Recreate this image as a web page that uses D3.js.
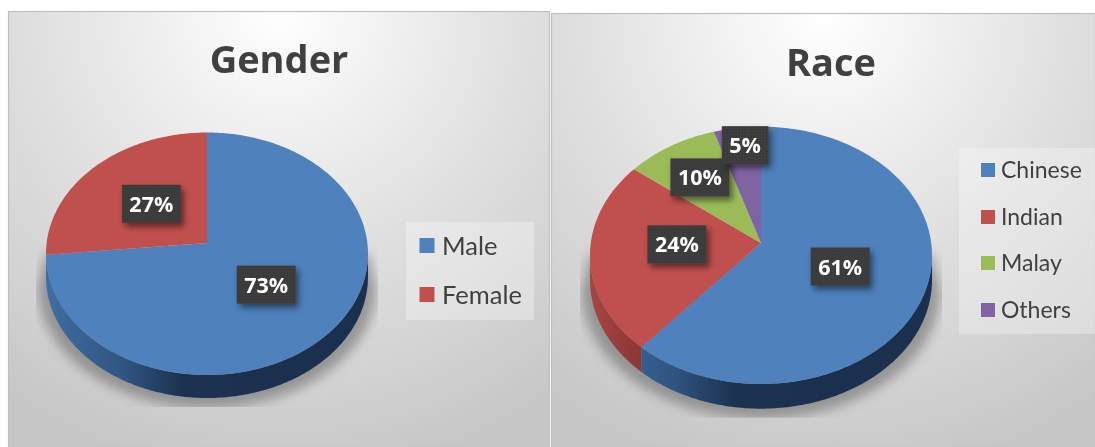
<!DOCTYPE html>
<html><head><meta charset="utf-8">
<style>html,body{margin:0;padding:0;background:#fff}svg{display:block;filter:blur(0.35px)}text{font-family:Lato,sans-serif}.ttl,.lbl{font-family:"Open Sans",sans-serif}</style>
<script src="https://cdn.jsdelivr.net/npm/d3@7"></script></head>
<body><svg id="c" width="1095" height="447"></svg>
<script>
const genderCategories = ["Male","Female"];
const genderValues = [73.45,26.55];
const raceCategories = ["Chinese","Indian","Malay","Others"];
const raceValues = [61.3,24.2,9.6,4.9];
const sliceColors = ["#4f81bd","#c0504d","#9bbb59","#8064a2"];

const layouts = [
 {title:"Gender",cats:genderCategories,vals:genderValues,
  panel:[8.5,11.5,541,436],titleX:279,titleY:73,titleSize:38,
  cx:207,cy:243,top:132.5,bottom:375,halfW:161,thick:23,
  labelR:[.5,.5],nudge:[[-2,0],[2,0]],
  legend:{box:[406,222,128,98],swX:419.5,swS:15,txtX:442,ys:[245.5,294.5],size:25.5}},
 {title:"Race",cats:raceCategories,vals:raceValues,
  panel:[551.5,13.5,544,434],titleX:831,titleY:76,titleSize:38,
  cx:761,cy:243,top:126.7,bottom:384,halfW:171,thick:24.7,
  labelR:[.5,.5,.66,.82],nudge:[[-2,1],[1,-5],[0,0],[4,-2]],
  legend:{box:[959,148,136,186],swX:981,swS:14,txtX:1001,ys:[170,217,263,310],size:23}}
];

const svg = d3.select("#c");
const defs = svg.append("defs");
const tex = defs.append("pattern").attr("id","tex").attr("width",3).attr("height",3).attr("patternUnits","userSpaceOnUse");
tex.append("rect").attr("width",3).attr("height",3).attr("fill","#3b3b3b");
tex.append("rect").attr("x",1).attr("y",1).attr("width",1).attr("height",1).attr("fill","#474747");
const sh = defs.append("filter").attr("id","lblShadow").attr("x","-30%").attr("y","-30%").attr("width","170%").attr("height","170%");
sh.append("feDropShadow").attr("dx",3).attr("dy",4).attr("stdDeviation",3).attr("flood-color","#000").attr("flood-opacity",.5);
const bl = defs.append("filter").attr("id","pieShadow").attr("x","-20%").attr("y","-20%").attr("width","140%").attr("height","140%");
bl.append("feGaussianBlur").attr("stdDeviation",6);

function grad(id,x0,x1,stops){
  const g=defs.append("linearGradient").attr("id",id).attr("gradientUnits","userSpaceOnUse")
    .attr("x1",x0).attr("x2",x1).attr("y1",0).attr("y2",0);
  stops.forEach(s=>g.append("stop").attr("offset",s[0]).attr("stop-color",s[1]));
}

layouts.forEach((L,li)=>{
  const [px,py,pw,ph]=L.panel;
  const bg=defs.append("radialGradient").attr("id","bg"+li).attr("gradientUnits","userSpaceOnUse")
    .attr("cx",px+pw/2).attr("cy",py).attr("r",470);
  [[0,"#ffffff"],[.25,"#f0f0f0"],[.55,"#dedede"],[.8,"#d2d2d2"],[1,"#c6c6c6"]].forEach(s=>bg.append("stop").attr("offset",s[0]).attr("stop-color",s[1]));
  const g=svg.append("g");
  g.append("rect").attr("x",px).attr("y",py).attr("width",pw).attr("height",ph)
    .attr("fill",`url(#bg${li})`).attr("stroke","#bfbfbf").attr("stroke-width",1.2);
  g.append("text").attr("class","ttl").attr("x",L.titleX).attr("y",L.titleY).attr("text-anchor","middle")
    .attr("font-size",L.titleSize).attr("font-weight",700).attr("fill","#404040").text(L.title);

  const ry0=L.cy-L.top, ry1=L.bottom-L.cy;
  const k=(ry1-ry0)/(ry1+ry0), b=ry0*(1+k), a=L.halfW*Math.sqrt(1-k*k);
  const sx=d3.scaleLinear().domain([-1,1]).range([L.cx-a,L.cx+a]);
  const sy=d3.scaleLinear().domain([-1,1]).range([L.cy+b,L.cy-b]);
  const proj=(ang,r=1,dy=0,grow=1)=>{
    const u=r*Math.sin(ang),v=r*Math.cos(ang),w=1+k*v;
    return [L.cx+(sx(u/w)-L.cx)*grow, sy(v/w)+dy];
  };
  const line=d3.line();
  const arcPts=(a0,a1,r=1,dy=0,grow=1)=>{
    const n=Math.max(2,Math.ceil((a1-a0)/(Math.PI/180)));
    return d3.range(n+1).map(i=>proj(a0+(a1-a0)*i/n,r,dy,grow));
  };
  const arcs=d3.pie().sort(null).value(d=>d)(L.vals);
  const th0=Math.acos(-k), th1=2*Math.PI-th0;

  const shClip="sc"+li;
  defs.append("clipPath").attr("id",shClip).append("rect")
    .attr("x",L.cx-L.halfW-10).attr("y",L.cy).attr("width",2*L.halfW+20).attr("height",L.bottom+L.thick+9-L.cy);
  const shPts=[proj(th0)].concat(arcPts(th0,th1,1,L.thick+10,1.05)).concat([proj(th1)]);
  g.append("g").attr("clip-path",`url(#${shClip})`)
    .append("path").attr("d",line(shPts)+"Z").attr("fill","#6e6e6e").attr("opacity",.62).attr("filter","url(#pieShadow)");

  grad("wb"+li,L.cx-L.halfW,L.cx+L.halfW,[[0,"#3f6da3"],[.25,"#2f5480"],[.42,"#1c3250"],[1,"#1b2f4e"]]);
  grad("wr"+li,L.cx-L.halfW,L.cx+L.halfW,[[0,"#a54644"],[.15,"#8a3735"],[.3,"#7a302e"],[1,"#7a302e"]]);
  arcs.forEach((d,i)=>{
    const s=Math.max(d.startAngle,th0), e=Math.min(d.endAngle,th1);
    if(e<=s) return;
    const upper=arcPts(s,e), lower=arcPts(s,e,1,L.thick).reverse();
    g.append("path").attr("d",line(upper.concat(lower))+"Z")
      .attr("fill",i===0?`url(#wb${li})`:`url(#wr${li})`);
  });

  g.selectAll(null).data(arcs).join("path")
    .attr("d",d=>line([proj(0,0)].concat(arcPts(d.startAngle,d.endAngle)))+"Z")
    .attr("fill",(d,i)=>sliceColors[i]);

  arcs.forEach((d,i)=>{
    const mid=(d.startAngle+d.endAngle)/2;
    const p=proj(mid,L.labelR[i]);
    const lg=g.append("g").attr("transform",`translate(${p[0]+L.nudge[i][0]},${p[1]+L.nudge[i][1]})`);
    const rect=lg.append("rect").attr("fill","url(#tex)").attr("filter","url(#lblShadow)");
    const t=lg.append("text").attr("class","lbl").attr("text-anchor","middle").attr("y",8)
      .attr("font-size",21.5).attr("font-weight",700).attr("fill","#fff").text(Math.round(d.data)+"%");
    const w=t.node().getComputedTextLength()+15;
    rect.attr("x",-w/2).attr("y",-19).attr("width",w).attr("height",38);
  });

  const lb=L.legend;
  g.append("rect").attr("x",lb.box[0]).attr("y",lb.box[1]).attr("width",lb.box[2]).attr("height",lb.box[3])
    .attr("fill","#fff").attr("opacity",.3);
  L.cats.forEach((c,i)=>{
    g.append("rect").attr("x",lb.swX).attr("y",lb.ys[i]-lb.swS/2).attr("width",lb.swS).attr("height",lb.swS).attr("fill",sliceColors[i]);
    g.append("text").attr("x",lb.txtX).attr("y",lb.ys[i]).attr("dy","0.36em")
      .attr("font-size",lb.size).attr("fill","#404040").text(c);
  });
});
</script></body></html>
